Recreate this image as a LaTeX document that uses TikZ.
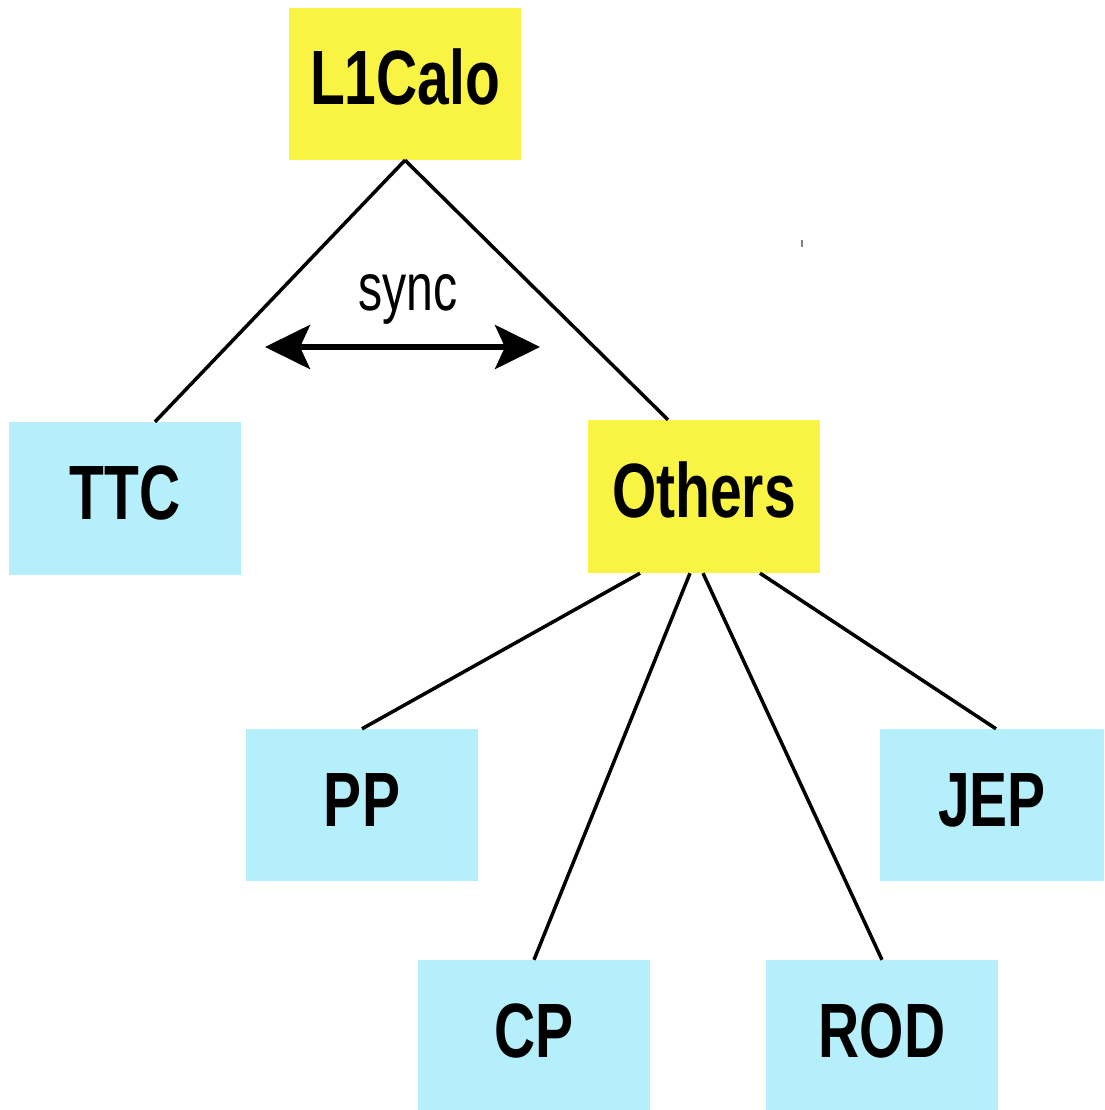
\documentclass[tikz,border=0pt]{standalone}
\usepackage{fontspec}
\setmainfont{Liberation Sans}
\usetikzlibrary{calc,arrows.meta}
\definecolor{boxyellow}{HTML}{F9F344}
\definecolor{boxcyan}{HTML}{B5EFFB}
\tikzset{
  unitbox/.style={rectangle, inner sep=0pt, minimum width=232pt, minimum height=152pt,
    font=\fontsize{77}{80}\selectfont\bfseries, text height=55pt, text depth=13pt},
  ybox/.style={unitbox, fill=boxyellow},
  cbox/.style={unitbox, fill=boxcyan},
  link/.style={line width=3.5pt, black},
}
\newcommand{\cond}[1]{\scalebox{0.74}[1]{#1}}
\begin{document}
\begin{tikzpicture}[x=1pt,y=-1pt]
\useasboundingbox (0,0) rectangle (1104,1110);
\node[ybox] (l1) at (405,84) {\cond{L1Calo}};
\node[cbox, minimum height=153pt] (ttc) at (125,498.5) {\cond{TTC}};
\node[ybox, minimum height=153pt] (oth) at (704,496.5) {\cond{Others}};
\node[cbox] (pp) at (362,805) {\cond{PP}};
\node[cbox, minimum width=224pt] (jep) at (992,805) {\cond{JEP}};
\node[cbox, minimum height=150pt, text depth=11pt] (cp) at (534,1035) {\cond{CP}};
\node[cbox, minimum height=150pt, text depth=11pt] (rod) at (882,1035) {\cond{ROD}};
\draw[link] (l1.south) -- ($(ttc.north)+(30,0)$);
\draw[link] (l1.south) -- ($(oth.north)+(-36,0)$);
\draw[link] ($(oth.south)+(-64,0)$) -- (pp.north);
\draw[link] ($(oth.south)+(-14,0)$) -- (cp.north);
\draw[link] ($(oth.south)+(-1,0)$) -- (rod.north);
\draw[link] ($(oth.south)+(56,0)$) -- ($(jep.north)+(4,0)$);
\coordinate (sl) at (265,347);
\coordinate (sr) at (540,347);
\draw[line width=5.5pt, {Stealth[length=45pt,width=44pt,inset=10pt]}-{Stealth[length=45pt,width=44pt,inset=10pt]}] (sl) -- (sr);
\node[font=\fontsize{67}{70}\selectfont, anchor=base] (sync) at (408,310) {\scalebox{0.72}[1]{sync}};
\draw[gray, line width=1.5pt] (802,240) -- (802,247);
\end{tikzpicture}
\end{document}
